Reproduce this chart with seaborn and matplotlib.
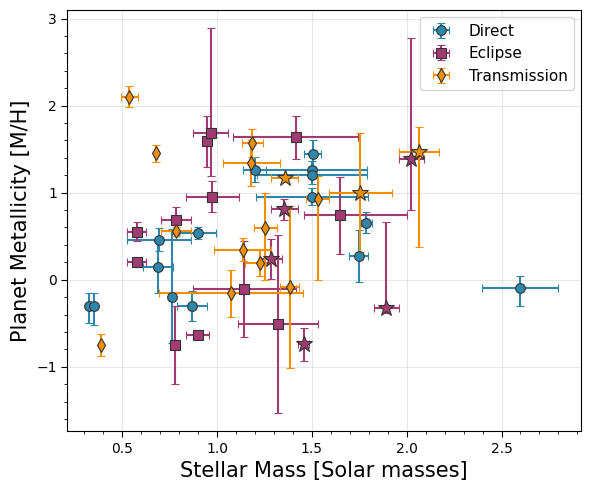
import matplotlib

matplotlib.use("Agg")
import matplotlib.pyplot as plt
import numpy as np
import seaborn as sns

# Direct imaging
direct_mass = [0.327, 0.349, 0.695, 0.690, 0.760, 0.868, 0.897, 1.198, 1.504, 1.500, 1.500, 1.500, 1.788, 1.747, 2.597]
direct_mass_lo = [0.01, 0.01, 0.17, 0.08, 0.01, 0.08, 0.10, 0.06, 0.045, 0.29, 0.29, 0.295, 0.03, 0.05, 0.20]
direct_mass_hi = [0.01, 0.01, 0.17, 0.08, 0.01, 0.08, 0.10, 0.06, 0.045, 0.29, 0.29, 0.295, 0.03, 0.05, 0.20]
direct_met = [-0.30, -0.30, 0.46, 0.15, -0.20, -0.30, 0.54, 1.265, 1.44, 1.265, 1.20, 0.955, 0.654, 0.27, -0.096]
direct_met_lo = [0.20, 0.22, 0.13, 0.30, 0.53, 0.17, 0.07, 0.14, 0.16, 0.10, 0.10, 0.10, 0.12, 0.30, 0.21]
direct_met_hi = [0.15, 0.15, 0.13, 0.30, 0.78, 0.17, 0.07, 0.14, 0.16, 0.10, 0.10, 0.10, 0.12, 0.30, 0.14]
direct_star = [False] * 15

# Secondary eclipse
eclipse_mass = [0.576, 0.576, 0.785, 0.780, 0.897, 0.947, 0.966, 0.974, 1.144, 1.320, 1.415, 1.650,
                1.355, 1.285, 1.457, 1.893, 2.025]
eclipse_mass_lo = [0.05, 0.05, 0.08, 0.02, 0.06, 0.01, 0.093, 0.14, 0.27, 0.21, 0.33, 0.19,
                   0.073, 0.06, 0.03, 0.066, 0.066]
eclipse_mass_hi = [0.05, 0.05, 0.08, 0.02, 0.06, 0.01, 0.093, 0.14, 0.27, 0.21, 0.33, 0.35,
                   0.073, 0.06, 0.03, 0.066, 0.066]
eclipse_met = [0.55, 0.20, 0.68, -0.75, -0.63, 1.59, 1.69, 0.955, -0.107, -0.51, 1.635, 0.74,
               0.807, 0.24, -0.74, -0.327, 1.39]
eclipse_met_lo = [0.11, 0.05, 0.15, 0.45, 0.03, 0.29, 0.50, 0.18, 0.55, 1.02, 0.25, 0.44,
                  0.12, 0.23, 0.19, 0.05, 0.59]
eclipse_met_hi = [0.11, 0.05, 0.15, 0.45, 0.03, 0.29, 1.20, 0.18, 0.55, 1.02, 0.25, 0.44,
                  0.12, 0.23, 0.19, 0.99, 1.39]
eclipse_star = [False] * 12 + [True] * 5

# Transmission
trans_mass = [0.389, 0.537, 0.676, 0.785, 1.075, 1.135, 1.180, 1.186, 1.225, 1.255, 1.383, 1.530,
              1.356, 1.756, 2.066]
trans_mass_lo = [0.01, 0.045, 0.01, 0.08, 0.38, 0.15, 0.15, 0.056, 0.08, 0.06, 0.05, 0.06,
                 0.073, 0.165, 0.107]
trans_mass_hi = [0.01, 0.045, 0.01, 0.08, 0.38, 0.15, 0.15, 0.056, 0.08, 0.06, 0.05, 0.06,
                 0.073, 0.165, 0.107]
trans_met = [-0.75, 2.10, 1.45, 0.557, -0.155, 0.346, 1.34, 1.57, 0.19, 0.596, -0.088, 0.93,
             1.165, 1.00, 1.47]
trans_met_lo = [0.13, 0.12, 0.10, 0.05, 0.27, 0.13, 0.26, 0.16, 0.15, 0.60, 0.93, 0.93,
                0.04, 0.68, 1.10]
trans_met_hi = [0.13, 0.12, 0.10, 0.05, 0.27, 0.13, 0.26, 0.16, 0.15, 0.40, 0.93, 0.26,
                0.04, 0.68, 0.28]
trans_star = [False] * 12 + [True] * 3

methods = ["Direct", "Eclipse", "Transmission"]
markers = ["o", "s", "d"]

sns.set_style(
    "ticks",
    {
        "axes.edgecolor": "black",
        "axes.labelcolor": "black",
        "text.color": "black",
        "xtick.color": "black",
        "ytick.color": "black",
        "grid.color": "#b0b0b0",
    },
)
palette = sns.color_palette(["#2E86AB", "#A23B72", "#F18F01"])

fig, ax = plt.subplots(figsize=(5.9, 4.9), dpi=100)
fig.subplots_adjust(left=0.114, right=0.985, top=0.98, bottom=0.12)

groups = [
    (direct_mass, direct_mass_lo, direct_mass_hi, direct_met, direct_met_lo, direct_met_hi, direct_star),
    (eclipse_mass, eclipse_mass_lo, eclipse_mass_hi, eclipse_met, eclipse_met_lo, eclipse_met_hi, eclipse_star),
    (trans_mass, trans_mass_lo, trans_mass_hi, trans_met, trans_met_lo, trans_met_hi, trans_star),
]

for name, marker, color, g in zip(methods, markers, palette, groups):
    x, xlo, xhi, y, ylo, yhi, star = [np.array(v) for v in g]
    normal = ~star
    ax.errorbar(
        x[normal], y[normal],
        xerr=[xlo[normal], xhi[normal]], yerr=[ylo[normal], yhi[normal]],
        fmt=marker, color=color, markersize=7, markeredgecolor="#333333",
        markeredgewidth=0.8, elinewidth=1.5, capsize=3, label=name,
    )
    if star.any():
        ax.errorbar(
            x[star], y[star],
            xerr=[xlo[star], xhi[star]], yerr=[ylo[star], yhi[star]],
            fmt="*", color=color, markersize=12, markeredgecolor="#333333",
            markeredgewidth=0.8, elinewidth=1.5, capsize=3,
        )

ax.set_xlim(0.21, 2.92)
ax.set_ylim(-1.74, 3.1)
ax.minorticks_on()
ax.grid(True, which="major", alpha=0.3)
ax.set_xlabel("Stellar Mass [Solar masses]", fontsize=15)
ax.set_ylabel("Planet Metallicity [M/H]", fontsize=15)
ax.tick_params(axis="both", which="major", labelsize=10, direction="out", length=4)
ax.tick_params(axis="both", which="minor", direction="out", length=2.5)
ax.legend(loc="upper right", fontsize=11)

plt.savefig("out.png", dpi=100)
plt.close()
